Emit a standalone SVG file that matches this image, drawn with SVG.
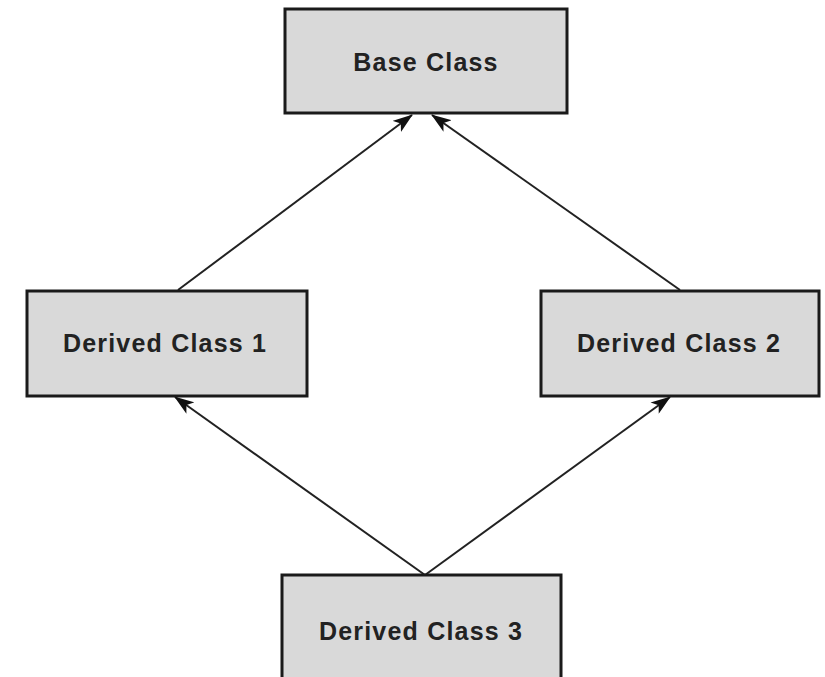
<svg xmlns="http://www.w3.org/2000/svg" width="825" height="677" viewBox="0 0 825 677">
<style>
.box{fill:#d9d9d9;stroke:#1a1a1a;stroke-width:3}
.lbl{font-family:"Liberation Sans",Arial,sans-serif;font-weight:bold;font-size:25px;letter-spacing:1.2px;fill:#222;text-anchor:middle;dominant-baseline:central}
.edge{stroke:#222;stroke-width:2;fill:none;marker-end:url(#ah)}
</style>
<defs>
<marker id="ah" viewBox="0 0 20 14" refX="19" refY="7" markerWidth="20" markerHeight="14" markerUnits="userSpaceOnUse" orient="auto">
<path d="M0,0 L20,7 L0,14 L5,7 Z" fill="#111"/>
</marker>
</defs>
<rect width="825" height="677" fill="#fff"/>
<g id="connectors">
<line class="edge" x1="178" y1="290" x2="412" y2="115"/>
<line class="edge" x1="680" y1="290" x2="432" y2="115"/>
<line class="edge" x1="425" y1="575" x2="175" y2="397"/>
<line class="edge" x1="425" y1="575" x2="670" y2="397"/>
</g>
<g id="base">
<rect class="box" x="285" y="9" width="282" height="104"/>
<text class="lbl" x="426" y="62">Base Class</text>
</g>
<g id="derived1">
<rect class="box" x="27" y="291" width="280" height="105"/>
<text class="lbl" x="165" y="343">Derived Class 1</text>
</g>
<g id="derived2">
<rect class="box" x="541" y="291" width="278" height="105"/>
<text class="lbl" x="679" y="343">Derived Class 2</text>
</g>
<g id="derived3">
<rect class="box" x="282" y="575" width="279" height="110"/>
<text class="lbl" x="421" y="631">Derived Class 3</text>
</g>
</svg>
